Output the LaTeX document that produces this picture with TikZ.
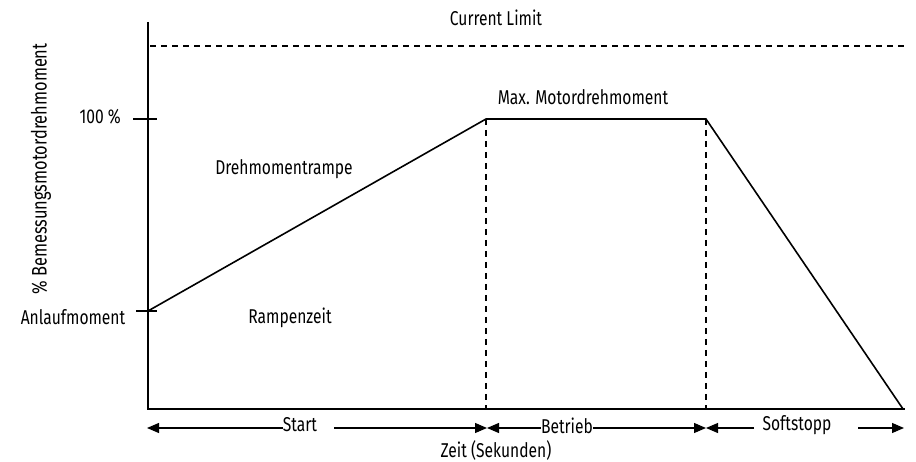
\documentclass[tikz,border=0pt]{standalone}
\usepackage{fontspec}
\setmainfont{Fira Sans}[FakeStretch=0.78]
\usetikzlibrary{arrows.meta}
\begin{document}
\begin{tikzpicture}[x=1pt,y=-1pt,
  axis/.style={line width=2.4pt},
  curve/.style={line width=1.6pt},
  guide/.style={line width=1.2pt,dash pattern=on 6pt off 5pt},
  span/.style={line width=1.1pt,-{Triangle[length=12pt,width=10pt]}},
  lbl/.style={inner sep=0pt,font=\fontsize{20}{22}\selectfont}]
\useasboundingbox (0,0) rectangle (916,462);
% axes
\coordinate (ytop) at (148,22);
\coordinate (orig) at (148,409);
\coordinate (xend) at (905,409);
% torque profile
\coordinate (p0) at (148,311);
\coordinate (p1) at (486,119);
\coordinate (p2) at (706,119);
\coordinate (p3) at (903,409);
\coordinate (b1) at (486,409);
\coordinate (b2) at (706,409);
% ticks
\coordinate (t1a) at (133,119);
\coordinate (t1b) at (157,119);
\coordinate (t2a) at (136,311);
\coordinate (t2b) at (157,311);
% current limit
\coordinate (cl0) at (150,46);
\coordinate (cl1) at (906,46);

\draw[guide] (cl0) -- (cl1);
\draw[guide] (p1) -- (b1);
\draw[guide] (p2) -- (b2);
\draw[curve] (p0) -- (p1) -- (p2) -- (p3);
\draw[axis] (ytop) -- (orig) -- (xend);
\draw[axis] (t1a) -- (t1b);
\draw[axis] (t2a) -- (t2b);

% labels
\node[lbl] (cur) at (496,18) {Current Limit};
\node[lbl] (maxm) at (583,97) {Max. Motordrehmoment};
\node[lbl] (ramp) at (284,169) {Drehmomentrampe};
\node[lbl] (rz) at (290,318) {Rampenzeit};
\node[lbl,anchor=east] (hundred) at (121,117) {100 \%};
\node[lbl] (anl) at (73,317) {Anlaufmoment};
\node[lbl,rotate=90,font=\fontsize{21}{23}\selectfont] (ylab) at (41,169) {\% Bemessungsmotordrehmoment};
\node[lbl] (zeit) at (496,450) {Zeit (Sekunden)};

% time spans along the bottom
\node[lbl] (start) at (300,425) {Start};
\node[lbl] (betr) at (567,426) {Betrieb};
\node[lbl] (soft) at (797,425) {Softstopp};
\coordinate (a0) at (147,428);
\coordinate (a1) at (487,428);
\coordinate (a2) at (706,428);
\coordinate (a3) at (904,428);
\coordinate (s1) at (334,428);
\coordinate (s2) at (754,428);
\coordinate (s3) at (858,428);
\draw[span] (start.west |- a0) -- (a0);
\draw[span] (s1) -- (a1);
\draw[span] (betr.west |- a0) -- (a1);
\draw[span] (betr.east |- a0) -- (a2);
\draw[span] (s2) -- (a2);
\draw[span] (s3) -- (a3);
\end{tikzpicture}
\end{document}
